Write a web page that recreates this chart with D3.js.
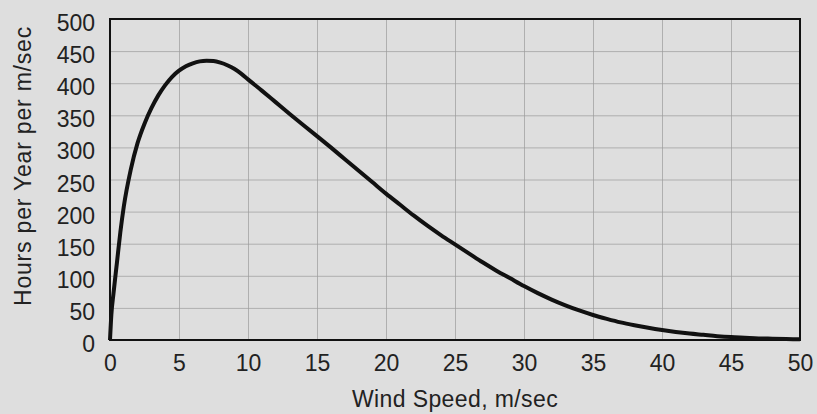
<!DOCTYPE html>
<html>
<head>
<meta charset="utf-8">
<script src="https://cdn.jsdelivr.net/npm/d3@7"></script>
<style>
  body { margin: 0; background: #dedede; }
  #chart { width: 817px; height: 414px; }
  .grid line { stroke: #9c9c9c; stroke-width: 1; opacity: 0.7; }
  .tick text { font-family: "Liberation Sans", Arial, sans-serif; font-size: 23px; fill: #222; }
  .title { font-family: "Liberation Sans", Arial, sans-serif; font-size: 23px; fill: #222; }
</style>
</head>
<body>
<div id="chart"></div>
<script>
// values
const windSpeed = [0, 0.1, 0.25, 0.5, 0.75, 1, 1.5, 2, 2.5, 3, 3.5, 4, 4.5, 5, 5.5, 6, 6.5, 7, 7.5, 8, 8.5, 9, 9.5, 10,
  11, 12, 13, 14, 15, 16, 17, 18, 19, 20, 21, 22, 23, 24, 25, 26, 27, 28, 29, 30,
  31, 32, 33, 34, 35, 36, 37, 38, 39, 40, 41, 42, 43, 44, 45, 46, 47, 48, 49, 50]
const hours = [0, 40, 72, 120, 168, 208, 265, 307, 337, 361, 381, 397, 410, 419.5, 426.5, 431, 434, 435, 434.5, 432, 428, 422.5, 415, 406,
  388.5, 370.5, 352.5, 335, 317.5, 300, 282, 264, 246, 228, 211, 194, 178, 163, 149, 135, 121, 108, 96, 84,
  73, 63, 54, 46, 39, 33, 27.5, 23, 19, 15.5, 12.5, 10, 8, 6, 4.5, 3.5, 2.5, 2, 1.5, 1]

const xTicks = [0, 5, 10, 15, 20, 25, 30, 35, 40, 45, 50]
const yTicks = [0, 50, 100, 150, 200, 250, 300, 350, 400, 450, 500]

const width = 817, height = 414
const margin = { top: 19, right: 17, bottom: 74, left: 110 }

var svg = d3.select("#chart").append("svg")
    .attr("width", width)
    .attr("height", height)

var x = d3.scaleLinear().domain([0, 50]).range([margin.left, width - margin.right])
var y = d3.scaleLinear().domain([0, 500]).range([height - margin.bottom, margin.top])

// background
svg.append("rect")
    .attr("width", width).attr("height", height)
    .attr("fill", "#dedede")

// grid
var grid = svg.append("g").attr("class", "grid")
grid.selectAll(".h").data(yTicks).enter().append("line")
    .attr("x1", x(0)).attr("x2", x(50))
    .attr("y1", d => y(d) + 0.5).attr("y2", d => y(d) + 0.5)
grid.selectAll(".v").data(xTicks).enter().append("line")
    .attr("x1", d => x(d) + 0.5).attr("x2", d => x(d) + 0.5)
    .attr("y1", y(0)).attr("y2", y(500))

// axes (labels only)
var xAxis = d3.axisBottom(x).tickValues(xTicks).tickSize(0).tickPadding(15)
svg.append("g")
    .attr("transform", "translate(0," + y(0) + ")")
    .call(xAxis)
    .call(g => g.select(".domain").remove())

var yAxis = d3.axisLeft(y).tickValues(yTicks).tickSize(0).tickPadding(15)
svg.append("g")
    .attr("transform", "translate(" + x(0) + ",0)")
    .call(yAxis)
    .call(g => g.select(".domain").remove())
    .call(g => g.selectAll(".tick text").attr("dy", "0.5em"))

// frame
svg.append("rect")
    .attr("x", x(0)).attr("y", y(500))
    .attr("width", x(50) - x(0)).attr("height", y(0) - y(500))
    .attr("fill", "none")
    .attr("stroke", "#111")
    .attr("stroke-width", 2)

// curve
var line = d3.line()
    .x((d, i) => x(windSpeed[i]))
    .y(d => y(d))
    .curve(d3.curveMonotoneX)

svg.append("path")
    .datum(hours)
    .attr("d", line)
    .attr("fill", "none")
    .attr("stroke", "#111")
    .attr("stroke-width", 4)
    .attr("stroke-linejoin", "round")

// titles
svg.append("text")
    .attr("class", "title")
    .attr("x", (x(0) + x(50)) / 2)
    .attr("y", 407)
    .attr("text-anchor", "middle")
    .style("letter-spacing", "0.4px")
    .text("Wind Speed, m/sec")

svg.append("text")
    .attr("class", "title")
    .attr("transform", "translate(31,166) rotate(-90)")
    .attr("text-anchor", "middle")
    .style("letter-spacing", "0.8px")
    .text("Hours per Year per m/sec")
</script>
</body>
</html>
